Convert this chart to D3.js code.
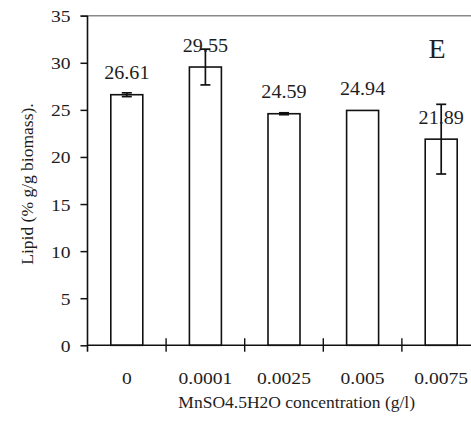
<!DOCTYPE html>
<html>
<head>
<meta charset="utf-8">
<script src="https://cdn.jsdelivr.net/npm/d3@7"></script>
<style>
  html, body { margin: 0; padding: 0; background: #fff; }
  svg { display: block; }
  svg text { font-family: "Liberation Serif", "Times New Roman", "DejaVu Serif", serif !important; fill: #1e1e1e; }
</style>
</head>
<body>
<svg id="chart" width="471" height="427"></svg>
<script>
// ---- data ----
const categories = ["0", "0.0001", "0.0025", "0.005", "0.0075"];
const lipidValues = [26.61, 29.55, 24.59, 24.94, 21.89];
const lipidErrors = [0.2, 1.9, 0.1, 0, 3.7];
const valueLabels = ["26.61", "29.55", "24.59", "24.94", "21.89"];
const yTicks = [0, 5, 10, 15, 20, 25, 30, 35];
const xTitle = "MnSO4.5H2O concentration (g/l)";
const yTitle = "Lipid (% g/g biomass).";
const panelLabel = "E";

// ---- layout ----
const svg = d3.select("#chart");
const x0 = 87.5, step = 78.6;
const x = d3.scaleBand()
  .domain(categories)
  .range([x0, x0 + step * categories.length])
  .paddingInner(0.593)
  .paddingOuter(0.2965);
const y = d3.scaleLinear().domain([0, 35]).range([345.3, 15.7]);

function sText(sel, sx) {
  return sel.attr("transform", function () {
    const t = d3.select(this);
    return `translate(${t.attr("data-x")},${t.attr("data-y")}) scale(${sx},1)`;
  });
}

// top border (gray)
svg.append("line")
  .attr("x1", x0 - 7).attr("x2", 471)
  .attr("y1", y(35)).attr("y2", y(35))
  .attr("stroke", "#8a8a8a").attr("stroke-width", 1.4);

// bars
svg.append("g").selectAll("rect").data(lipidValues).join("rect")
  .attr("x", (d, i) => x(categories[i]))
  .attr("width", x.bandwidth())
  .attr("y", d => y(d))
  .attr("height", d => y(0) - y(d))
  .attr("fill", "#fff")
  .attr("stroke", "#111")
  .attr("stroke-width", 1.6);

// error bars
const eg = svg.append("g").attr("stroke", "#111").attr("stroke-width", 1.7);
lipidValues.forEach((v, i) => {
  const e = lipidErrors[i];
  if (!e) return;
  const cx = x(categories[i]) + x.bandwidth() / 2;
  const cw = 5;
  eg.append("line").attr("x1", cx).attr("x2", cx).attr("y1", y(v + e)).attr("y2", y(v - e));
  eg.append("line").attr("x1", cx - cw).attr("x2", cx + cw).attr("y1", y(v + e)).attr("y2", y(v + e));
  eg.append("line").attr("x1", cx - cw).attr("x2", cx + cw).attr("y1", y(v - e)).attr("y2", y(v - e));
});

// value labels
svg.append("g").selectAll("text").data(lipidValues).join("text")
  .attr("data-x", (d, i) => x(categories[i]) + x.bandwidth() / 2)
  .attr("data-y", d => y(d) - 15.5)
  .attr("text-anchor", "middle")
  .attr("font-size", 19)
  .text((d, i) => valueLabels[i])
  .call(sText, 1.06);

// y axis
const yAxis = svg.append("g")
  .attr("transform", `translate(${x0},0)`)
  .call(d3.axisLeft(y).tickValues(yTicks).tickSize(7).tickPadding(10));
yAxis.attr("font-family", null).attr("font-size", null);
yAxis.select(".domain").remove();
yAxis.selectAll(".tick line").attr("stroke", "#111").attr("stroke-width", 1.5);
yAxis.selectAll(".tick text")
  .attr("font-size", 17.5)
  .attr("dy", "0.34em")
  .attr("transform", "scale(1.12,1)")
  .attr("x", -17 / 1.12);
svg.append("line")
  .attr("x1", x0).attr("x2", x0)
  .attr("y1", y(35)).attr("y2", y(0) + 6.5)
  .attr("stroke", "#111").attr("stroke-width", 1.6);

// x axis line
svg.append("line")
  .attr("x1", x0).attr("x2", 471)
  .attr("y1", y(0)).attr("y2", y(0))
  .attr("stroke", "#111").attr("stroke-width", 1.6);

// x category separator ticks
const edges = d3.range(1, categories.length + 1).map(i => x0 + i * step);
svg.append("g").selectAll("line").data(edges.filter(e => e < 471)).join("line")
  .attr("x1", d => d).attr("x2", d => d)
  .attr("y1", y(0) - 7).attr("y2", y(0) + 6.5)
  .attr("stroke", "#111").attr("stroke-width", 1.4);

// x tick labels
svg.append("g").selectAll("text").data(categories).join("text")
  .attr("data-x", d => x(d) + x.bandwidth() / 2)
  .attr("data-y", 383.5)
  .attr("text-anchor", "middle")
  .attr("font-size", 17.5)
  .text(d => d)
  .call(sText, 1.12);

// x title
svg.append("text")
  .attr("data-x", 296.7)
  .attr("data-y", 408)
  .attr("text-anchor", "middle")
  .attr("font-size", 17.5)
  .text(xTitle)
  .call(sText, 1.0);

// y title
svg.append("text")
  .attr("transform", "translate(33,184) rotate(-90)")
  .attr("text-anchor", "middle")
  .attr("font-size", 17.5)
  .text(yTitle);

// panel label
svg.append("text")
  .attr("data-x", 437)
  .attr("data-y", 58)
  .attr("text-anchor", "middle")
  .attr("font-size", 28)
  .text(panelLabel)
  .call(sText, 1.0);
</script>
</body>
</html>
